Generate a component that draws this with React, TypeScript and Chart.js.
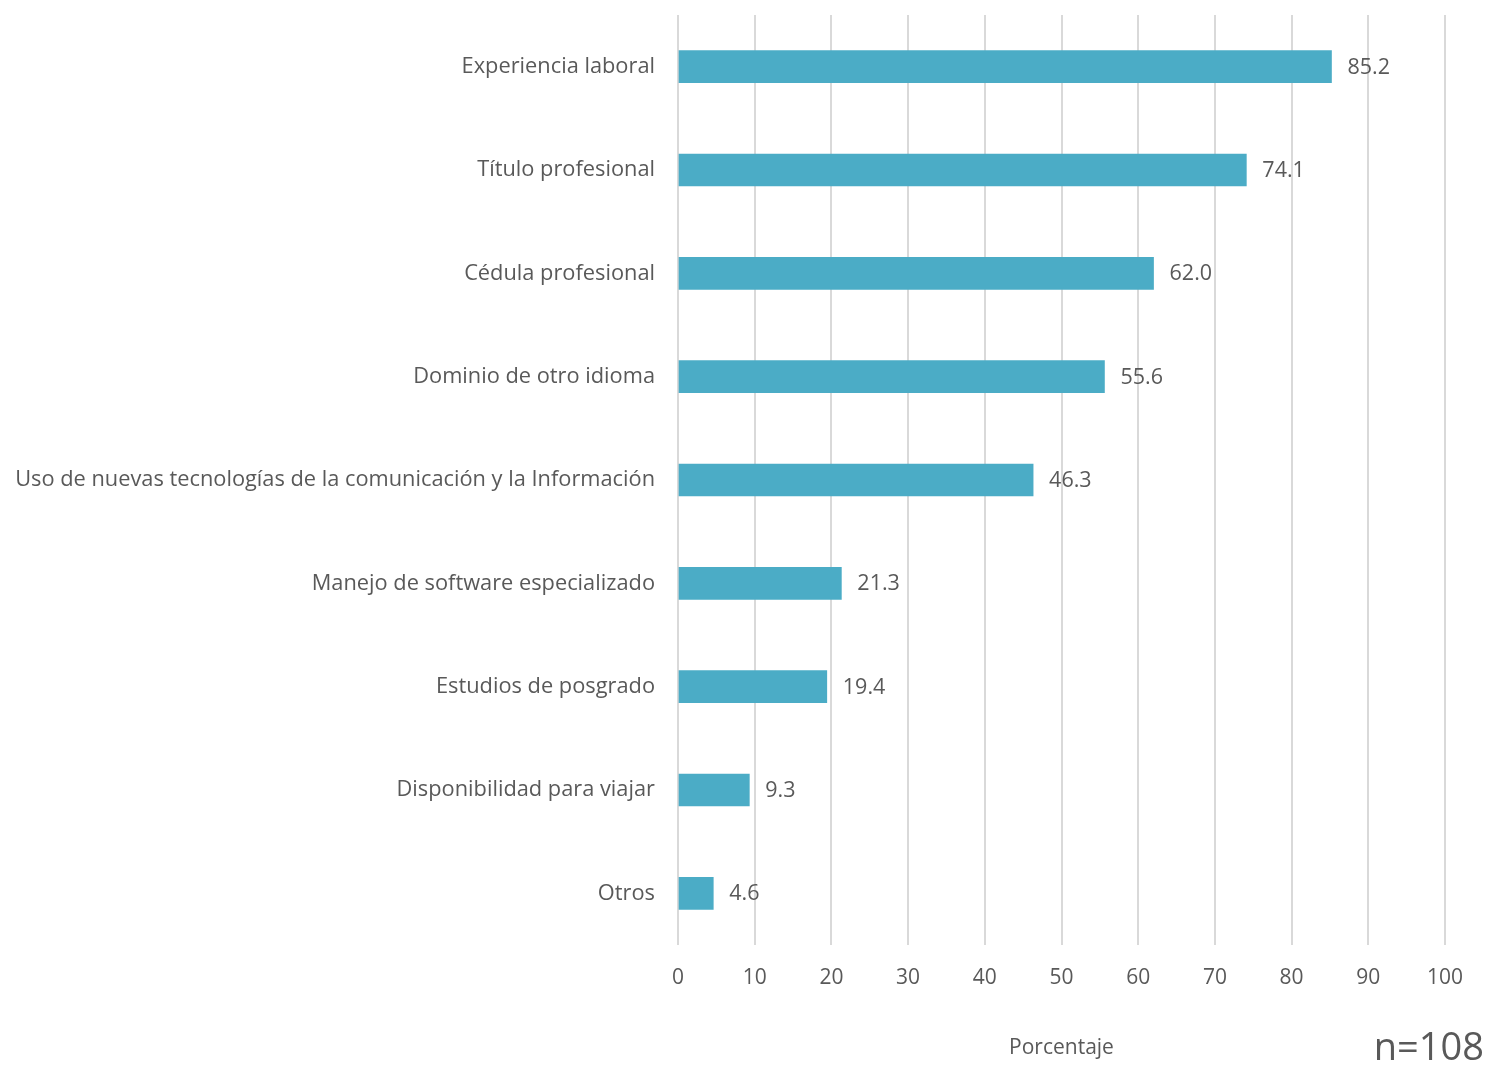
import React, { useEffect, useRef } from "react";
import { Chart, registerables } from "chart.js";

Chart.register(...registerables);

const categories = [
  "Experiencia laboral",
  "Título profesional",
  "Cédula profesional",
  "Dominio de otro idioma",
  "Uso de nuevas tecnologías de la comunicación y la Información",
  "Manejo de software especializado",
  "Estudios de posgrado",
  "Disponibilidad para viajar",
  "Otros",
];
const values = [85.2, 74.1, 62.0, 55.6, 46.3, 21.3, 19.4, 9.3, 4.6];
const xTicks = [0, 10, 20, 30, 40, 50, 60, 70, 80, 90, 100];
const axisTitle = "Porcentaje";
const sampleNote = "n=108";

const FONT = "'Open Sans', 'Liberation Sans', sans-serif";
const TEXT = "#595959";

const labelPlugin = {
  id: "valueLabels",
  afterDatasetsDraw(chart: any) {
    const ctx = chart.ctx;
    const meta = chart.getDatasetMeta(0);
    ctx.save();
    ctx.font = `21.5px ${FONT}`;
    ctx.fillStyle = TEXT;
    ctx.textAlign = "left";
    ctx.textBaseline = "middle";
    meta.data.forEach((bar: any, i: number) => {
      ctx.fillText(values[i].toFixed(1), bar.x + 16, bar.y + 1);
    });
    ctx.restore();
  },
};

const notePlugin = {
  id: "note",
  afterDraw(chart: any) {
    const ctx = chart.ctx;
    ctx.save();
    ctx.font = `38px ${FONT}`;
    ctx.fillStyle = TEXT;
    ctx.textAlign = "right";
    ctx.textBaseline = "middle";
    ctx.fillText(sampleNote, 1484, 1049);
    ctx.restore();
  },
};

export default function App() {
  const ref = useRef<HTMLCanvasElement>(null);
  useEffect(() => {
    if (!ref.current) return;
    const chart = new Chart(ref.current, {
      type: "bar",
      data: {
        labels: categories,
        datasets: [
          {
            data: values,
            backgroundColor: "#4BACC6",
            borderColor: "#4BACC6",
            borderWidth: 0,
            barThickness: 32,
          },
        ],
      },
      options: {
        indexAxis: "y",
        animation: false,
        responsive: false,
        maintainAspectRatio: false,
        layout: { padding: { left: 0, right: 42, top: 15, bottom: 0 } },
        plugins: { legend: { display: false }, tooltip: { enabled: false } },
        scales: {
          x: {
            min: 0,
            max: 100,
            afterBuildTicks: (scale: any) => {
              scale.ticks = xTicks.map((v) => ({ value: v }));
            },
            afterFit: (scale: any) => {
              scale.height = 121;
              scale.paddingLeft = 0;
              scale.paddingRight = 0;
            },
            grid: { color: "#d9d9d9", lineWidth: 2, drawTicks: false },
            border: { display: false },
            ticks: {
              color: TEXT,
              font: { family: FONT, size: 21 },
              padding: 20,
            },
            title: {
              display: true,
              text: axisTitle,
              color: TEXT,
              font: { family: FONT, size: 21 },
              padding: { top: 0, bottom: 5 },
            },
          },
          y: {
            afterFit: (scale: any) => {
              scale.width = 678;
              scale.paddingTop = 0;
              scale.paddingBottom = 0;
            },
            grid: { display: false, drawTicks: false },
            border: { display: false },
            ticks: {
              color: TEXT,
              font: { family: FONT, size: 21.8 },
              padding: 23,
            },
          },
        },
      },
      plugins: [labelPlugin, notePlugin],
    });
    return () => chart.destroy();
  }, []);
  return (
    <div style={{ position: "absolute", left: 0, top: 0, width: 1487, height: 1066, background: "#fff" }}>
      <canvas ref={ref} width={1487} height={1066} style={{ width: 1487, height: 1066 }} />
    </div>
  );
}
